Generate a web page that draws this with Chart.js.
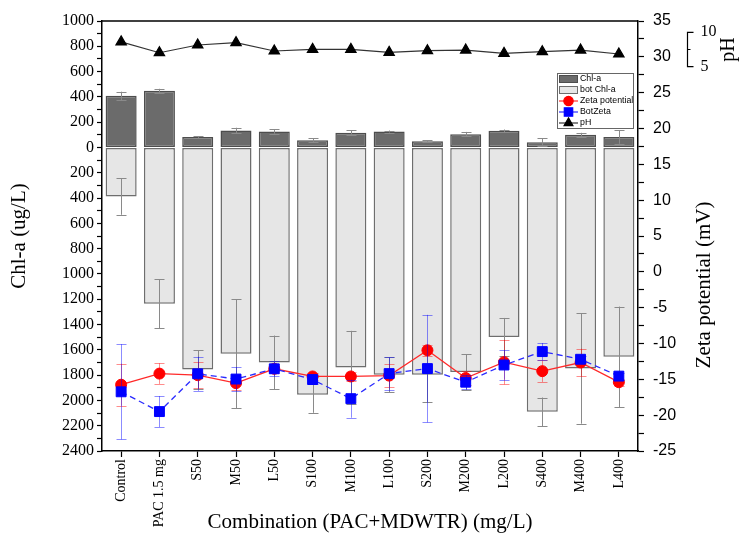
<!DOCTYPE html>
<html><head><meta charset="utf-8">
<script src="https://cdn.jsdelivr.net/npm/chart.js@4.4.1/dist/chart.umd.min.js"></script>
<style>html,body{margin:0;padding:0;background:#fff;}#wrap{width:739px;height:541px;}</style>
</head><body><div id="wrap"><canvas id="c" width="739" height="541"></canvas></div>
<script>
const categories = ['Control','PAC 1.5 mg','S50','M50','L50','S100','M100','L100','S200','M200','L200','S400','M400','L400'];
const chlA      = [408, 448, 82, 134, 126, 58, 116, 126, 50, 105, 132, 42, 100, 82];
const chlAErr   = [33, 16, 6, 22, 17, 16, 21, 8, 6, 18, 10, 30, 16, 53];
const botChlA   = [-387, -1236, -1755, -1632, -1700, -1956, -1740, -1797, -1797, -1775, -1498, -2090, -1748, -1655];
const botChlAErr= [145, 195, 153, 430, 213, 142, 290, 137, 215, 140, 150, 113, 436, 397];
const zeta      = [-15.75, -14.2, -14.42, -15.53, -13.53, -14.6, -14.6, -14.48, -10.95, -14.82, -12.6, -13.86, -12.65, -15.4];
const zetaErr   = [2.94, 1.44, 1.83, 1.0, 0.6, 0.5, 0.6, 1.56, 0.8, 1.0, 3.1, 1.5, 1.93, 0.5];
const botZeta   = [-16.74, -19.5, -14.23, -14.96, -13.53, -15.03, -17.7, -14.2, -13.5, -15.4, -13.0, -11.13, -12.2, -14.55];
const botZetaErr= [6.64, 2.16, 2.38, 1.65, 1.03, 0.6, 2.66, 2.25, 7.5, 1.0, 2.05, 1.2, 0.45, 0.5];
const pH        = [8.6, 7.03, 8.15, 8.49, 7.28, 7.51, 7.51, 7.08, 7.32, 7.42, 6.93, 7.18, 7.42, 6.84];
const chlTicks  = [];  for (let v = -2400; v <= 1000; v += 100) chlTicks.push(v);
const zetaTicks = [];  for (let v = -25; v <= 35; v += 2.5) zetaTicks.push(v);
const phTicks   = [5, 10];

const serif = "'Liberation Serif','Times New Roman',serif";
const sans  = "'Liberation Sans',Arial,sans-serif";

function drawErrors(chart, index) {
  const ds = chart.data.datasets[index];
  if (!ds.errors) return;
  const meta = chart.getDatasetMeta(index);
  const scale = chart.scales[meta.yAxisID];
  const ctx = chart.ctx;
  ctx.save();
  ctx.strokeStyle = ds.errColor;
  ctx.lineWidth = 1;
  ctx.setLineDash([]);
  meta.data.forEach((el, i) => {
    const v = ds.data[i], e = ds.errors[i];
    const x = Math.round(el.x) + 0.5;
    const y1 = scale.getPixelForValue(v + e), y2 = scale.getPixelForValue(v - e);
    ctx.beginPath();
    ctx.moveTo(x, y1); ctx.lineTo(x, y2);
    ctx.moveTo(x - 5, Math.round(y1) + 0.5); ctx.lineTo(x + 5, Math.round(y1) + 0.5);
    ctx.moveTo(x - 5, Math.round(y2) + 0.5); ctx.lineTo(x + 5, Math.round(y2) + 0.5);
    ctx.stroke();
  });
  ctx.restore();
}

const errorBars = {
  id: 'errorBars',
  beforeDatasetDraw(chart, args) { if (chart.data.datasets[args.index].type === 'line') drawErrors(chart, args.index); },
  afterDatasetDraw(chart, args) { if (chart.data.datasets[args.index].type === 'bar') drawErrors(chart, args.index); }
};

const decorations = {
  id: 'decorations',
  afterDraw(chart) {
    const {ctx, chartArea} = chart;
    ctx.save();
    ctx.strokeStyle = '#000'; ctx.lineWidth = 1.5;
    ctx.beginPath(); ctx.moveTo(chartArea.left, chartArea.top); ctx.lineTo(chartArea.right, chartArea.top); ctx.stroke();
    const s = chart.scales.yPH;
    const bx = chartArea.right + 49.5;
    const yA = s.getPixelForValue(phTicks[1]), yB = s.getPixelForValue(phTicks[0]);
    const yM = s.getPixelForValue((phTicks[0] + phTicks[1]) / 2);
    ctx.lineWidth = 1.2;
    ctx.beginPath();
    ctx.moveTo(bx + 6, yA); ctx.lineTo(bx, yA); ctx.lineTo(bx, yB); ctx.lineTo(bx + 6, yB);
    ctx.moveTo(bx, yM); ctx.lineTo(bx + 3, yM);
    ctx.stroke();
    ctx.fillStyle = '#000';
    ctx.font = `16px ${serif}`;
    ctx.textAlign = 'left'; ctx.textBaseline = 'middle';
    phTicks.forEach(v => ctx.fillText(String(v), bx + 13, s.getPixelForValue(v)));
    ctx.save();
    ctx.translate(chartArea.right + 91, (yA + yB) / 2);
    ctx.rotate(-Math.PI / 2);
    ctx.textAlign = 'center'; ctx.font = `20px ${serif}`;
    ctx.fillText('pH', 0, 0);
    ctx.restore();
    ctx.save();
    ctx.translate(chartArea.right + 66, chartArea.top + 264);
    ctx.rotate(-Math.PI / 2);
    ctx.textAlign = 'center'; ctx.font = `21px ${serif}`;
    ctx.fillText('Zeta potential (mV)', 0, 0);
    ctx.restore();
    const items = chart.data.datasets;
    const rowH = 11, w = 76;
    const x0 = chartArea.right - 81, y0 = chartArea.top + 52;
    const h = rowH * items.length;
    ctx.fillStyle = '#fff'; ctx.fillRect(x0, y0, w, h);
    ctx.strokeStyle = '#666'; ctx.lineWidth = 1;
    ctx.strokeRect(x0 + 0.5, y0 + 0.5, w, h);
    items.forEach((ds, i) => {
      const cy = y0 + rowH * i + rowH / 2 + 0.5;
      const sx = x0 + 2, sw = 19;
      if (ds.type === 'bar') {
        ctx.fillStyle = ds.backgroundColor; ctx.fillRect(sx, cy - 4, sw, 8);
        ctx.strokeStyle = ds.borderColor; ctx.lineWidth = 1;
        ctx.strokeRect(sx + 0.5, cy - 3.5, sw - 1, 7);
      } else {
        ctx.strokeStyle = ds.borderColor; ctx.lineWidth = 1.2;
        ctx.beginPath(); ctx.moveTo(sx, cy); ctx.lineTo(sx + sw, cy); ctx.stroke();
        ctx.fillStyle = ds.pointBackgroundColor; ctx.strokeStyle = ds.pointBorderColor;
        Chart.helpers.drawPoint(ctx, {pointStyle: ds.pointStyle, radius: ds.pointRadius * 0.85, borderWidth: 1, rotation: 0}, sx + sw / 2, cy);
      }
      ctx.fillStyle = '#000'; ctx.font = `8.8px ${sans}`;
      ctx.textAlign = 'left'; ctx.textBaseline = 'middle';
      ctx.fillText(ds.label, x0 + 23, cy);
    });
    ctx.restore();
  }
};

new Chart(document.getElementById('c'), {
  type: 'bar',
  data: {
    labels: categories,
    datasets: [
      {type: 'bar', label: 'Chl-a', data: chlA, errors: chlAErr, errColor: '#8a8a8a',
       backgroundColor: '#6b6b6b', borderColor: '#4d4d4d', borderWidth: 1.5, borderSkipped: false,
       yAxisID: 'y', stack: 'a', barPercentage: 0.81, categoryPercentage: 1, order: 5},
      {type: 'bar', label: 'bot Chl-a', data: botChlA, errors: botChlAErr, errColor: '#8a8a8a',
       backgroundColor: '#e6e6e6', borderColor: '#6e6e6e', borderWidth: 1.5, borderSkipped: false,
       yAxisID: 'y', stack: 'a', barPercentage: 0.81, categoryPercentage: 1, order: 5},
      {type: 'line', label: 'Zeta potential', data: zeta, errors: zetaErr, errColor: 'rgba(255,0,0,0.45)',
       yAxisID: 'y2', borderColor: '#ff2a2a', borderWidth: 1.3, pointStyle: 'circle', pointRadius: 5.5,
       pointBackgroundColor: '#ff0000', pointBorderColor: '#ff0000', pointBorderWidth: 1, order: 3},
      {type: 'line', label: 'BotZeta', data: botZeta, errors: botZetaErr, errColor: 'rgba(0,0,255,0.45)',
       yAxisID: 'y2', borderColor: '#2a2aff', borderWidth: 1.3, borderDash: [6, 4], pointStyle: 'rect', pointRadius: 7,
       pointBackgroundColor: '#0000ff', pointBorderColor: '#0000ff', pointBorderWidth: 1, order: 2},
      {type: 'line', label: 'pH', data: pH, yAxisID: 'yPH', borderColor: '#333', borderWidth: 1.2,
       pointStyle: 'triangle', pointRadius: 6, pointBackgroundColor: '#000', pointBorderColor: '#000', order: 1}
    ]
  },
  options: {
    responsive: false, animation: false, devicePixelRatio: 1,
    layout: {padding: {top: 21, left: 0, right: 0, bottom: 0}},
    plugins: {legend: {display: false}, tooltip: {enabled: false}},
    scales: {
      x: {
        stacked: true, offset: true,
        grid: {display: true, drawOnChartArea: false, offset: false, tickLength: 6, tickColor: '#000', tickWidth: 1.2},
        border: {display: true, color: '#000', width: 1.5},
        ticks: {color: '#000', font: {family: serif, size: 14}, maxRotation: 90, minRotation: 90, padding: 2, autoSkip: false},
        title: {display: true, text: 'Combination (PAC+MDWTR) (mg/L)', color: '#000', font: {family: serif, size: 21}, padding: {top: 0, bottom: 6}},
        afterFit(s) { s.height = 90; }
      },
      y: {
        position: 'left', stacked: true, min: -2400, max: 1000,
        afterBuildTicks(s) { s.ticks = chlTicks.map(v => ({value: v})); },
        grid: {display: true, drawOnChartArea: false, tickLength: 5, tickColor: '#000', tickWidth: 1.2},
        border: {display: true, color: '#000', width: 1.5},
        ticks: {color: '#000', font: {family: serif, size: 16}, padding: 3, autoSkip: false,
                callback: (v) => (Math.round(v) % 200 === 0 ? String(Math.abs(Math.round(v))) : '')},
        title: {display: true, text: 'Chl-a (ug/L)', color: '#000', font: {family: serif, size: 21}, padding: {top: 7, bottom: 0}},
        afterFit(s) { s.width = 102; }
      },
      y2: {
        position: 'right', min: -25, max: 35,
        afterBuildTicks(s) { s.ticks = zetaTicks.map(v => ({value: v})); },
        grid: {display: true, drawOnChartArea: false, tickLength: 6, tickColor: '#000', tickWidth: 1.2},
        border: {display: true, color: '#000', width: 1.5},
        ticks: {color: '#000', font: {family: sans, size: 16}, padding: 9, autoSkip: false,
                callback: (v) => (Math.abs(v % 5) < 1e-9 ? String(v) : '')},
        afterFit(s) { s.width = 101; }
      },
      yPH: {display: false, min: -50.86, max: 11.64}
    }
  },
  plugins: [errorBars, decorations]
});
</script>
</body></html>
